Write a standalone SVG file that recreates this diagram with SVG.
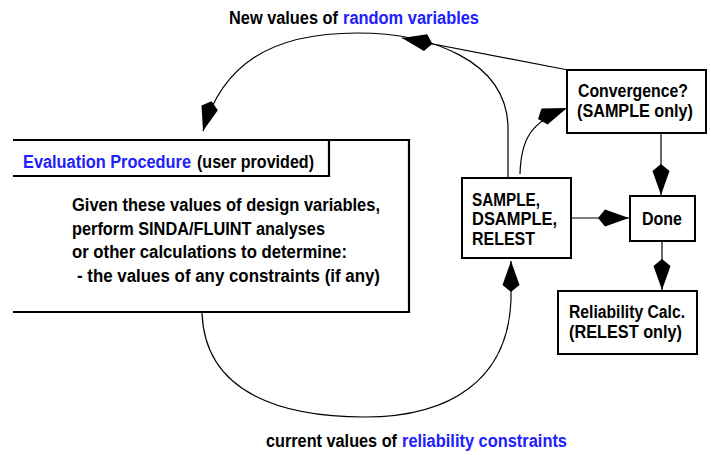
<svg xmlns="http://www.w3.org/2000/svg" width="710" height="455" viewBox="0 0 710 455">
<style>
text{font-family:"Liberation Sans Narrow","Arial Narrow","Liberation Sans",Arial,sans-serif;font-weight:bold;font-size:18px;fill:#000}
.b{fill:#2020ff}
.box{fill:#fff;stroke:#000;stroke-width:2}
.ln{fill:none;stroke:#000;stroke-width:1.2}
</style>
<defs>
<marker id="kite" markerUnits="userSpaceOnUse" orient="auto" viewBox="-33 -10 34 20" markerWidth="34" markerHeight="20" refX="0" refY="0">
<path d="M0,0 L-24,-8.5 L-31,0 L-24,8.5 Z" fill="#000"/>
</marker>
</defs>
<rect width="710" height="455" fill="#fff"/>
<g id="connectors">
<path class="ln" d="M508,177 L508,125 C505,60 430,33 357,33 C270,33 222,65 203,131" marker-end="url(#kite)"/>
<path class="ln" d="M568,70 L402,38" marker-end="url(#kite)"/>
<path class="ln" d="M520,174 C521,140 530,122 567,108" marker-end="url(#kite)"/>
<path class="ln" d="M202,313 C205,395 285,417 365,417 C450,417 508,380 511,300 L511,261" marker-end="url(#kite)"/>
<path class="ln" d="M661,133 L661,195" marker-end="url(#kite)"/>
<path class="ln" d="M571,218 L629,218" marker-end="url(#kite)"/>
<path class="ln" d="M662,241 L662,290" marker-end="url(#kite)"/>
</g>
<g id="label-top">
<text x="229" y="24" textLength="109" lengthAdjust="spacingAndGlyphs">New values of</text>
<text class="b" x="343" y="24" textLength="136" lengthAdjust="spacingAndGlyphs">random variables</text>
</g>
<g id="label-bottom">
<text x="266" y="447" textLength="131" lengthAdjust="spacingAndGlyphs">current values of</text>
<text class="b" x="402" y="447" textLength="165" lengthAdjust="spacingAndGlyphs">reliability constraints</text>
</g>
<g id="evaluation">
<path d="M13,140 L409,140 L409,312 L13,312" fill="#fff" stroke="#000" stroke-width="2.2"/>
<path d="M13,176 L329,176 L329,140" fill="none" stroke="#000" stroke-width="2.2"/>
<text class="b" x="23" y="168" textLength="168" lengthAdjust="spacingAndGlyphs">Evaluation Procedure</text>
<text x="197" y="168" textLength="117" lengthAdjust="spacingAndGlyphs">(user provided)</text>
<text x="72" y="211" textLength="308" lengthAdjust="spacingAndGlyphs">Given these values of design variables,</text>
<text x="72" y="235" textLength="253" lengthAdjust="spacingAndGlyphs">perform SINDA/FLUINT analyses</text>
<text x="72" y="258" textLength="275" lengthAdjust="spacingAndGlyphs">or other calculations to determine:</text>
<text x="77" y="282" textLength="303" lengthAdjust="spacingAndGlyphs">- the values of any constraints (if any)</text>
</g>
<g id="convergence">
<rect class="box" x="567" y="70" width="139" height="63"/>
<text x="578" y="97" textLength="110" lengthAdjust="spacingAndGlyphs">Convergence?</text>
<text x="577" y="117" textLength="116" lengthAdjust="spacingAndGlyphs">(SAMPLE only)</text>
</g>
<g id="sample">
<rect class="box" x="462" y="178" width="109" height="80"/>
<text x="472" y="206" textLength="68" lengthAdjust="spacingAndGlyphs">SAMPLE,</text>
<text x="472" y="225" textLength="85" lengthAdjust="spacingAndGlyphs">DSAMPLE,</text>
<text x="472" y="245" textLength="63" lengthAdjust="spacingAndGlyphs">RELEST</text>
</g>
<g id="done">
<rect class="box" x="630" y="196" width="65" height="45"/>
<text x="642" y="225" textLength="40" lengthAdjust="spacingAndGlyphs">Done</text>
</g>
<g id="reliability">
<rect class="box" x="558" y="291" width="139" height="63"/>
<text x="569" y="318" textLength="116" lengthAdjust="spacingAndGlyphs">Reliability Calc.</text>
<text x="569" y="338" textLength="113" lengthAdjust="spacingAndGlyphs">(RELEST only)</text>
</g>
</svg>
